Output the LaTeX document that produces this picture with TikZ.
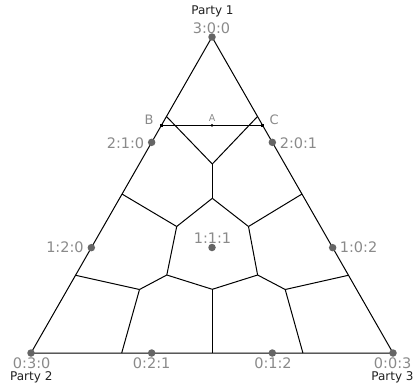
\documentclass[tikz,border=0pt]{standalone}
\usepackage{fontspec}
\setmainfont{DejaVu Sans}
\usetikzlibrary{calc}
\definecolor{dotgray}{HTML}{656565}
\definecolor{labelgray}{HTML}{8A8A8A}
\definecolor{partyink}{HTML}{202020}
\begin{document}
\begin{tikzpicture}[x=1pt,y=-1pt,
  vote/.style={circle,fill=dotgray,inner sep=0pt,minimum size=7.5pt},
  ratio/.style={text=labelgray,inner sep=0pt,font=\fontsize{14.5}{14.5}\selectfont},
  party/.style={text=partyink,inner sep=0pt,font=\fontsize{12}{12}\selectfont},
  corner/.style={fill=black,inner sep=0pt,minimum size=3pt},
  midpt/.style={circle,fill=black,inner sep=0pt,minimum size=3pt},
  every path/.style={line width=1pt}]
\useasboundingbox (0,0) rectangle (414,388);
\coordinate (T) at (212,37);
\coordinate (L) at (31,353);
\coordinate (R) at (393,353);
\coordinate (e1) at ($(T)!0.2516!(L)$);
\coordinate (e2) at ($(T)!0.2516!(R)$);
\coordinate (e3) at ($(T)!0.497!(L)$);
\coordinate (e4) at ($(T)!0.497!(R)$);
\coordinate (e5) at ($(T)!0.754!(L)$);
\coordinate (e6) at ($(T)!0.754!(R)$);
\coordinate (e7) at (121.7,353);
\coordinate (e8) at (212.3,353);
\coordinate (e9) at (302.9,353);
\coordinate (v1) at (212.3,164);
\coordinate (v2) at (212.3,198.3);
\coordinate (v3) at (176.7,226.5);
\coordinate (v4) at (248.5,226.5);
\coordinate (v5) at (166.8,275);
\coordinate (v6) at (257.6,275);
\coordinate (v7) at (212.3,289.3);
\coordinate (v8) at (139.5,289.5);
\coordinate (v9) at (285.2,289.5);
\draw[line join=round] (T) -- (L) -- (R) -- cycle;
\draw (e1) -- (v1);
\draw (e2) -- (v1);
\draw (v1) -- (v2);
\draw (v2) -- (v3);
\draw (v2) -- (v4);
\draw (v3) -- (e3);
\draw (v4) -- (e4);
\draw (v3) -- (v5);
\draw (v4) -- (v6);
\draw (v5) -- (v7);
\draw (v6) -- (v7);
\draw (v7) -- (e8);
\draw (v5) -- (v8);
\draw (v6) -- (v9);
\draw (v8) -- (e5);
\draw (v9) -- (e6);
\draw (v8) -- (e7);
\draw (v9) -- (e9);
\node[corner] (sqB) at ($(T)!0.28!(L)$) {};
\node[corner] (sqC) at ($(T)!0.28!(R)$) {};
\draw[line width=1.2pt] (sqB) -- (sqC);
\node[midpt] (ptA) at ($(sqB)!0.5!(sqC)$) {};
\node[vote] (p300) at (T) {};
\node[vote] (p030) at (L) {};
\node[vote] (p003) at (R) {};
\node[vote] (p210) at ($(T)!1/3!(L)$) {};
\node[vote] (p120) at ($(T)!2/3!(L)$) {};
\node[vote] (p201) at ($(T)!1/3!(R)$) {};
\node[vote] (p102) at ($(T)!2/3!(R)$) {};
\node[vote] (p021) at ($(L)!1/3!(R)$) {};
\node[vote] (p012) at ($(L)!2/3!(R)$) {};
\node[vote] (p111) at (212,247.5) {};
\node[party] (party1) at (212.5,11.5) {Party 1};
\node[party] (party2) at (31.3,377) {Party 2};
\node[party] (party3) at (392.5,377) {Party 3};
\node[ratio] (t300) at (211.5,28) {3:0:0};
\node[ratio] (t210) at (125.5,143) {2:1:0};
\node[ratio] (t201) at (298.5,143) {2:0:1};
\node[ratio] (t120) at (65,247.3) {1:2:0};
\node[ratio] (t102) at (358.5,247.3) {1:0:2};
\node[ratio] (t111) at (212.5,238.5) {1:1:1};
\node[ratio] (t030) at (31.7,363.3) {0:3:0};
\node[ratio] (t021) at (151.7,363.5) {0:2:1};
\node[ratio] (t012) at (273,363.5) {0:1:2};
\node[ratio] (t003) at (392.7,363.3) {0:0:3};
\node[ratio,font=\fontsize{13}{13}\selectfont] (tB) at (149.2,119.7) {B};
\node[ratio,font=\fontsize{13}{13}\selectfont] (tC) at (274.2,119.5) {C};
\node[ratio,font=\fontsize{9.5}{9.5}\selectfont] (tA) at (212,118.3) {A};
\end{tikzpicture}
\end{document}
